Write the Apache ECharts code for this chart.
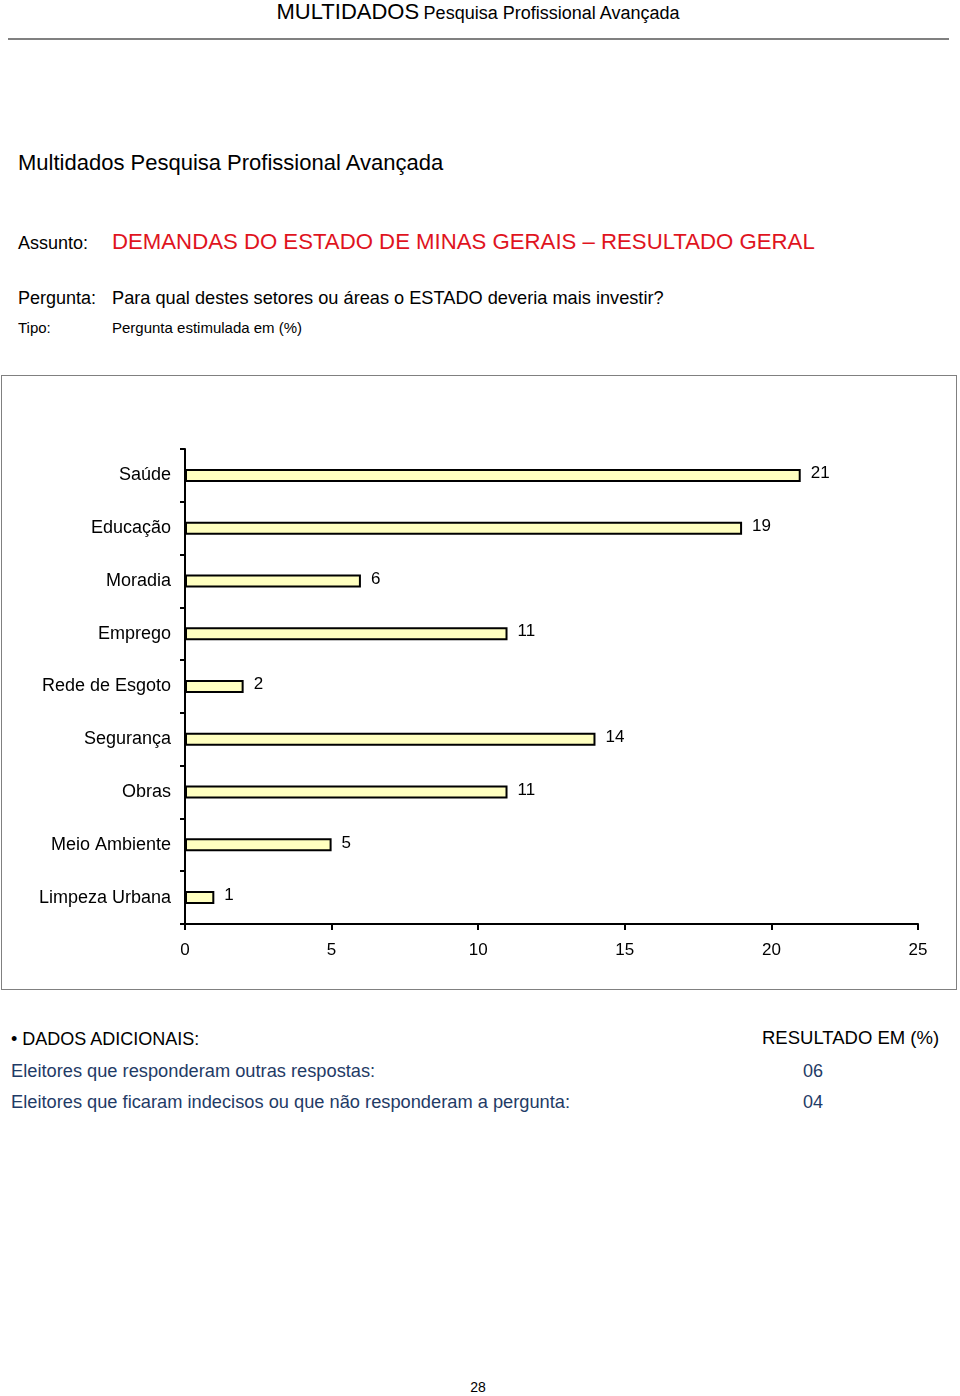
<!DOCTYPE html>
<html>
<head>
<meta charset="utf-8">
<script src="https://cdn.jsdelivr.net/npm/echarts@6/dist/echarts.min.js"></script>
<style>
  html, body { margin:0; padding:0; background:#fff; }
  body { width:960px; height:1396px; position:relative; font-family:"Liberation Sans", Arial, sans-serif; color:#000; overflow:hidden; }
  .t { position:absolute; white-space:nowrap; line-height:1; }
  #hdrline { position:absolute; left:8px; top:38px; width:941px; height:0; border-top:2px solid #808080; }
  #frame { position:absolute; left:1px; top:375px; width:954px; height:613px; border:1px solid #808080; }
  #chart { position:absolute; left:0; top:0; width:954px; height:613px; }
  .blue { color:#1f3b66; }
</style>
</head>
<body>
<div class="t" style="left:0;width:956px;text-align:center;top:1px;"><span style="font-size:22px;">MULTIDADOS</span> <span style="font-size:18px;">Pesquisa Profissional Avançada</span></div>
<div id="hdrline"></div>

<div class="t" style="left:18px;top:152px;font-size:22px;">Multidados Pesquisa Profissional Avançada</div>
<div class="t" style="left:18px;top:234px;font-size:18px;">Assunto:</div>
<div class="t" style="left:112px;top:231px;font-size:22.2px;color:#e0141e;">DEMANDAS DO ESTADO DE MINAS GERAIS – RESULTADO GERAL</div>
<div class="t" style="left:18px;top:289px;font-size:18px;">Pergunta:</div>
<div class="t" style="left:112px;top:289px;font-size:18.2px;">Para qual destes setores ou áreas o ESTADO deveria mais investir?</div>
<div class="t" style="left:18px;top:320px;font-size:15px;">Tipo:</div>
<div class="t" style="left:112px;top:320px;font-size:15px;">Pergunta estimulada em (%)</div>

<div id="frame"><div id="chart"></div></div>

<div class="t" style="left:11px;top:1030px;font-size:18px;">• DADOS ADICIONAIS:</div>
<div class="t" style="left:762px;top:1029px;font-size:18.5px;">RESULTADO EM (%)</div>
<div id="extra"></div>

<div class="t" style="left:0;width:956px;text-align:center;top:1380px;font-size:14px;">28</div>

<script>
// ---- data ----
var categories = ["Saúde", "Educação", "Moradia", "Emprego", "Rede de Esgoto", "Segurança", "Obras", "Meio Ambiente", "Limpeza Urbana"];
var values = [21, 19, 6, 11, 2, 14, 11, 5, 1];
var xMin = 0, xMax = 25, xStep = 5;
var extraLabels = ["Eleitores que responderam outras respostas:", "Eleitores que ficaram indecisos ou que não responderam a pergunta:"];
var extraValues = ["06", "04"];

// additional data rows
var extra = document.getElementById('extra');
extraLabels.forEach(function (lab, i) {
  var top = 1062 + i * 31;
  var a = document.createElement('div');
  a.className = 't blue'; a.style.left = '11px'; a.style.top = top + 'px'; a.style.fontSize = '18.25px';
  a.textContent = lab; extra.appendChild(a);
  var b = document.createElement('div');
  b.className = 't blue'; b.style.left = '803px'; b.style.top = top + 'px'; b.style.fontSize = '18px';
  b.textContent = extraValues[i]; extra.appendChild(b);
});

var chart = echarts.init(document.getElementById('chart'), null, { renderer: 'canvas' });
chart.setOption({
  animation: false,
  textStyle: { fontFamily: '"Liberation Sans", Arial, sans-serif' },
  grid: { left: 183, right: 38, top: 73, bottom: 65, containLabel: false },
  xAxis: {
    type: 'value', min: xMin, max: xMax, interval: xStep,
    axisLine: { show: true, lineStyle: { color: '#000', width: 2 } },
    axisTick: { show: true, length: 6, lineStyle: { color: '#000', width: 2 } },
    axisLabel: { color: '#000', fontSize: 17, margin: 18 },
    splitLine: { show: false }
  },
  yAxis: {
    type: 'category', data: categories, inverse: true,
    axisLine: { show: true, lineStyle: { color: '#000', width: 2 } },
    axisTick: { show: true, length: 5, alignWithLabel: false, lineStyle: { color: '#000', width: 2 } },
    axisLabel: { color: '#000', fontSize: 18, margin: 14 }
  },
  series: [{
    type: 'bar',
    data: values,
    barWidth: 13,
    itemStyle: { color: '#ffffc0', borderColor: '#000', borderWidth: 2 },
    label: { show: true, position: 'right', distance: 10, offset: [0, -2], color: '#000', fontSize: 17 }
  }]
});
</script>
</body>
</html>
